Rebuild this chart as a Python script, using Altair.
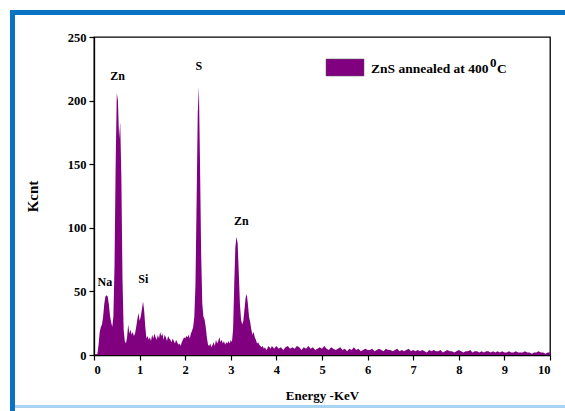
import altair as alt
import pandas as pd

# ---- spectrum: 0.000 - 4.000 keV in 0.025 keV steps ----
low_energy_kcnt = [
    0, 0, 0, 1, 8, 18, 22, 24, 30, 40,          # 0.000-0.225
    46, 47, 46, 40, 31, 26, 22, 30, 70, 150,    # 0.250-0.475
    206, 200, 170, 183, 140, 60, 20, 11, 9, 14, # 0.500-0.725
    24, 17, 20, 16, 18, 15, 17, 22, 28, 33,     # 0.750-0.975
    27, 30, 36, 42, 35, 22, 13, 15, 12, 14,     # 1.000-1.225
    11, 16, 13, 17, 14, 12, 16, 13, 18, 15,     # 1.250-1.475
    17, 12, 16, 14, 11, 15, 13, 12, 10, 13,     # 1.500-1.725
    11, 9, 12, 10, 8, 9, 7, 10, 12, 14,         # 1.750-1.975
    13, 15, 14, 16, 13, 17, 19, 22, 30, 55,     # 2.000-2.225
    120, 190, 211, 150, 80, 40, 30, 28, 22, 14, # 2.250-2.475
    8, 7, 9, 6, 8, 10, 7, 12, 9, 11,            # 2.500-2.725
    14, 10, 12, 9, 11, 8, 10, 9, 11, 9,         # 2.750-2.975
    12, 10, 20, 55, 85, 93, 88, 65, 40, 28,     # 3.000-3.225
    24, 27, 36, 45, 48, 40, 30, 26, 20, 16,     # 3.250-3.475
    18, 14, 12, 9, 10, 8, 7, 6, 7, 5,           # 3.500-3.725
    6, 4, 5, 7, 6, 5, 7, 6, 5, 6,               # 3.750-3.975
    7,                                          # 4.000
]
# ---- spectrum: 4.05 - 10.00 keV in 0.05 keV steps ----
high_energy_kcnt = [
    5, 6, 4, 6, 7, 5, 6, 5, 7, 6, 4, 6, 5, 7, 5, 6, 4, 5, 6, 5,
    7, 5, 4, 6, 5, 4, 5, 6, 4, 5, 3, 5, 4, 6, 4, 5, 3, 4, 5, 4,
    4, 5, 3, 4, 5, 4, 3, 5, 4, 4, 3, 4, 5, 3, 4, 3, 4, 5, 3, 4,
    3, 4, 3, 4, 3, 2, 4, 3, 4, 3, 3, 4, 2, 3, 4, 3, 3, 2, 3, 4,
    3, 2, 3, 3, 4, 2, 3, 3, 2, 3, 2, 3, 3, 2, 3, 2, 3, 2, 3, 2,
    2, 3, 2, 2, 3, 2, 2, 2, 3, 2, 2, 1, 2, 2, 3, 2, 2, 1, 2, 2,
]
low_energy_kev = [round(i * 0.025, 3) for i in range(len(low_energy_kcnt))]
high_energy_kev = [round(4.0 + (i + 1) * 0.05, 3) for i in range(len(high_energy_kcnt))]

series_name = "ZnS annealed at 400"

# ---- peak labels (anchored in data units) ----
peak_labels = ["Zn", "S", "Zn", "Na", "Si"]
peak_label_kev = [0.52, 2.30, 3.23, 0.24, 1.08]
peak_label_kcnt = [219, 227, 105, 57, 60]

x_ticks = [i * 0.5 for i in range(21)]
y_ticks = [i * 25 for i in range(11)]

FONT = "Liberation Serif, Times New Roman, serif"
PURPLE = "#800080"

spec = pd.DataFrame({
    "Energy": low_energy_kev + high_energy_kev,
    "Kcnt": low_energy_kcnt + high_energy_kcnt,
})
ann = pd.DataFrame({"label": peak_labels, "Energy": peak_label_kev, "Kcnt": peak_label_kcnt})

x_scale = alt.Scale(domain=[0, 10], nice=False)
y_scale = alt.Scale(domain=[0, 250], nice=False)

area = alt.Chart(spec).mark_area(color=PURPLE, interpolate="linear").encode(
    x=alt.X("Energy:Q", scale=x_scale,
            axis=alt.Axis(title="Energy -KeV", values=x_ticks,
                          labelExpr="datum.value % 1 == 0 ? datum.label : ''",
                          titlePadding=14)),
    y=alt.Y("Kcnt:Q", scale=y_scale,
            axis=alt.Axis(title="Kcnt", values=y_ticks,
                          labelExpr="datum.value % 50 == 0 ? datum.label : ''",
                          titlePadding=27)),
)

labels = alt.Chart(ann).mark_text(font=FONT, fontWeight="bold", fontSize=12,
                                  baseline="middle", color="black").encode(
    x=alt.X("Energy:Q", scale=x_scale),
    y=alt.Y("Kcnt:Q", scale=y_scale),
    text="label:N",
)

one = alt.Data(values=[{}])
swatch = alt.Chart(one).mark_rect(color=PURPLE, stroke="#555555", strokeWidth=0.5).encode(
    x=alt.value(232), x2=alt.value(270), y=alt.value(22), y2=alt.value(39))
leg_text = alt.Chart(one).mark_text(font=FONT, fontWeight="bold", fontSize=13.5,
                                    align="left", baseline="alphabetic").encode(
    x=alt.value(277), y=alt.value(36), text=alt.value(series_name))
leg_sup = alt.Chart(one).mark_text(font=FONT, fontWeight="bold", fontSize=13,
                                   align="left", baseline="alphabetic").encode(
    x=alt.value(396), y=alt.value(29.5), text=alt.value("0"))
leg_c = alt.Chart(one).mark_text(font=FONT, fontWeight="bold", fontSize=13.5,
                                 align="left", baseline="alphabetic").encode(
    x=alt.value(403), y=alt.value(36), text=alt.value("C"))

# decorative blue frame of the screenshot
frame_left = alt.Chart(one).mark_rect(color="#0a72c2").encode(
    x=alt.value(-84), x2=alt.value(-79), y=alt.value(-27), y2=alt.value(374))
frame_top = alt.Chart(one).mark_rect(color="#0a72c2").encode(
    x=alt.value(-84), x2=alt.value(471), y=alt.value(-27), y2=alt.value(-22))
frame_bottom = alt.Chart(one).mark_rect(color="#a9d3f2").encode(
    x=alt.value(-79), x2=alt.value(471), y=alt.value(368), y2=alt.value(371))

chart = alt.layer(frame_left, frame_top, frame_bottom, area, labels,
                  swatch, leg_text, leg_sup, leg_c).properties(
    width=456, height=318,
    autosize=alt.AutoSizeParams(type="none"),
    padding={"left": 94, "top": 37, "right": 15, "bottom": 56},
    background="white",
).configure_view(
    stroke="black", strokeWidth=1.3
).configure_axis(
    grid=False, domainColor="black", domainWidth=1.3, tickColor="black",
    tickWidth=1.2, tickSize=5, labelFont=FONT, labelFontWeight="bold",
    labelFontSize=12.5, labelColor="black", titleFont=FONT, titleFontWeight="bold",
    titleColor="black", labelPadding=3,
).configure_axisY(titleFontSize=15).configure_axisX(titleFontSize=13)

chart.save("out.html", embed_options={"renderer": "svg", "actions": False})
